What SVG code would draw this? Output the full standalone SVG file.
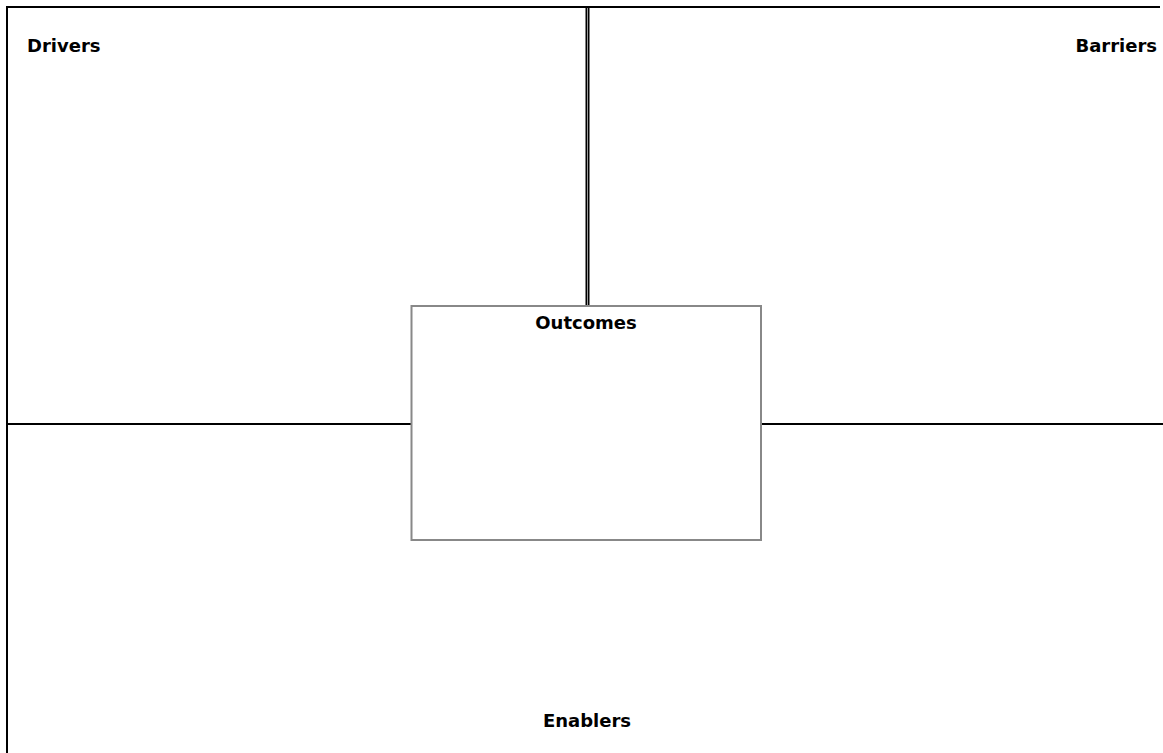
<svg xmlns="http://www.w3.org/2000/svg" width="1163" height="753" viewBox="0 0 1163 753">
<style>
.t{font-family:"DejaVu Sans",Verdana,sans-serif;font-weight:bold;font-size:18px;fill:#000}
.ln{stroke:#000;stroke-width:2;fill:none}
</style>
<rect width="1163" height="753" fill="#fff"/>
<g id="connectors">
<line class="ln" x1="7" y1="7" x2="1160" y2="7"/>
<line class="ln" x1="7" y1="6" x2="7" y2="753"/>
<line x1="587.5" y1="7" x2="587.5" y2="306" stroke="#000" stroke-width="4"/>
<line x1="587.5" y1="8" x2="587.5" y2="306" stroke="#999" stroke-width="1"/>
<line class="ln" x1="7" y1="424" x2="411" y2="424"/>
<line class="ln" x1="761" y1="424" x2="1163" y2="424"/>
</g>
<g id="drivers"><text class="t" x="27" y="52">Drivers</text></g>
<g id="barriers"><text class="t" x="1157" y="52" text-anchor="end">Barriers</text></g>
<g id="outcomes">
<rect x="411.5" y="306" width="349.5" height="234" fill="#fff" stroke="#888" stroke-width="2"/>
<text class="t" x="586" y="329" text-anchor="middle">Outcomes</text>
</g>
<g id="enablers"><text class="t" x="587" y="727" text-anchor="middle">Enablers</text></g>
</svg>
